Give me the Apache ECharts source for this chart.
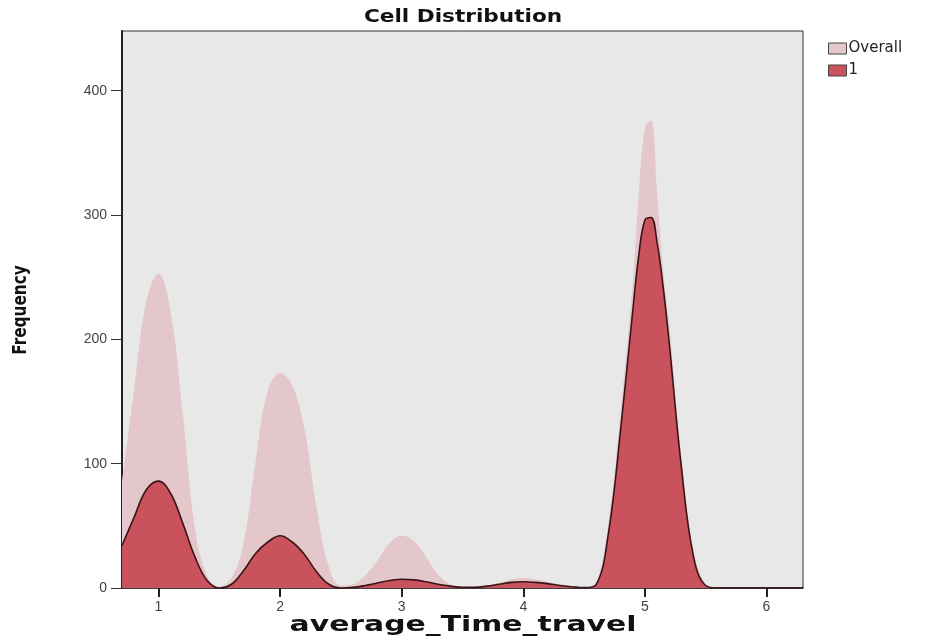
<!DOCTYPE html>
<html>
<head>
<meta charset="utf-8">
<script src="https://cdn.jsdelivr.net/npm/echarts@6/dist/echarts.min.js"></script>
<style>
  html, body { margin: 0; padding: 0; background: #fff; }
  #chart { width: 938px; height: 639px; }
</style>
</head>
<body>
<div id="chart"></div>
<script>
var xs = [0.7, 0.8, 0.9, 1.0, 1.1, 1.2, 1.3, 1.4, 1.5, 1.6, 1.7, 1.8, 1.9, 2.0,
  2.1, 2.2, 2.3, 2.4, 2.5, 2.6, 2.7, 2.8, 2.9, 3.0, 3.1, 3.2, 3.3, 3.4, 3.5,
  3.6, 3.7, 3.8, 3.9, 4.0, 4.1, 4.2, 4.3, 4.4, 4.5, 4.6, 4.7, 4.8, 4.9, 4.95,
  5.0, 5.05, 5.1, 5.15, 5.2, 5.3, 5.4, 5.5, 5.6, 5.7, 5.8, 5.9, 6.0, 6.1, 6.2, 6.3];
var overall = [85, 160, 230, 253, 222, 140, 48, 10, 1, 8, 36, 103, 159, 173,
  163, 128, 65, 17, 2, 3, 10, 22, 36, 42, 38, 25, 11, 3, 1,
  1, 2, 4, 7, 8, 7, 5, 3, 1, 0.3, 4, 52, 142, 245, 318,
  370, 376, 318, 256, 212, 106, 30, 3, 0, 0, 0, 0, 0, 0, 0, 0];
var cell1 = [34, 57, 79, 86, 76, 52, 25, 6, 0, 3, 14, 28, 37, 42,
  37, 27, 13, 3, 0, 0.5, 2, 4, 6, 7, 6.5, 5, 3, 1.5, 0.5,
  0.5, 1.5, 3, 4.5, 5, 4.5, 3.5, 2, 1, 0.3, 3, 44, 127, 223, 268,
  296, 298, 278, 242, 197, 97, 25, 2, 0, 0, 0, 0, 0, 0, 0, 0];
var xTicks = [1, 2, 3, 4, 5, 6];
var yTicks = [0, 100, 200, 300, 400];

function pairs(vals) {
  return xs.map(function (x, i) { return [x, vals[i]]; });
}

var myChart = echarts.init(document.getElementById('chart'));
var font = 'Liberation Sans, Arial, sans-serif';

myChart.setOption({
  animation: false,
  backgroundColor: '#ffffff',
  legend: {
    orient: 'vertical',
    left: 828, top: 41, padding: 0,
    icon: 'rect',
    itemWidth: 18, itemHeight: 11, itemGap: 7,
    textStyle: { fontFamily: 'DejaVu Sans, sans-serif', fontSize: 15, color: '#222', padding: [0, 0, 0, -3] },
    data: [
      { name: 'Overall', itemStyle: { color: '#e3c7ca', borderColor: '#444', borderWidth: 1 } },
      { name: '1', itemStyle: { color: '#c9525c', borderColor: '#444', borderWidth: 1 } }
    ]
  },
  grid: {
    left: 122, right: 135, top: 31, bottom: 51,
    show: true, backgroundColor: '#e8e8e8', borderColor: '#333', borderWidth: 1
  },
  xAxis: {
    type: 'value', min: 0.7, max: 6.3,
    splitLine: { show: false },
    axisLine: { lineStyle: { color: '#222', width: 1.5 } },
    axisTick: { customValues: xTicks, length: 9, lineStyle: { color: '#222', width: 2 } },
    axisLabel: { customValues: xTicks, margin: 12, fontFamily: font, fontSize: 14, color: '#444' }
  },
  yAxis: {
    type: 'value', min: 0, max: 448,
    splitLine: { show: false },
    axisLine: { show: true, lineStyle: { color: '#222', width: 2 } },
    axisTick: { customValues: yTicks, length: 11, lineStyle: { color: '#333', width: 1 } },
    axisLabel: { customValues: yTicks, margin: 15, fontFamily: font, fontSize: 14, color: '#444' }
  },
  graphic: [
    {
      type: 'text', x: 463, y: 17, scaleX: 1.2,
      style: {
        text: 'Cell Distribution', fill: '#111',
        font: 'bold 18px "DejaVu Sans", sans-serif',
        textAlign: 'center', textVerticalAlign: 'middle'
      }
    },
    {
      type: 'text', x: 463, y: 626, scaleX: 1.42,
      style: {
        text: 'average_Time_travel', fill: '#111',
        font: 'bold 21px "DejaVu Sans", sans-serif',
        textAlign: 'center', textVerticalAlign: 'middle'
      }
    },
    {
      type: 'text', x: 21, y: 310, rotation: Math.PI / 2, scaleX: 0.85,
      style: {
        text: 'Frequency', fill: '#111',
        font: 'bold 20px "DejaVu Sans Condensed", "Liberation Sans Narrow", sans-serif',
        textAlign: 'center', textVerticalAlign: 'middle'
      }
    }
  ],
  series: [
    {
      name: 'Overall', type: 'line', smooth: 0.4, symbol: 'none',
      data: pairs(overall),
      itemStyle: { color: '#e3c7ca' },
      lineStyle: { width: 0, color: '#e3c7ca' },
      areaStyle: { color: '#e3c7ca', opacity: 1 },
      z: 2
    },
    {
      name: '1', type: 'line', smooth: 0.4, symbol: 'none',
      data: pairs(cell1),
      itemStyle: { color: '#c9525c' },
      lineStyle: { width: 1.6, color: '#3a1517' },
      areaStyle: { color: '#c9525c', opacity: 1 },
      z: 3
    }
  ]
});
</script>
</body>
</html>
